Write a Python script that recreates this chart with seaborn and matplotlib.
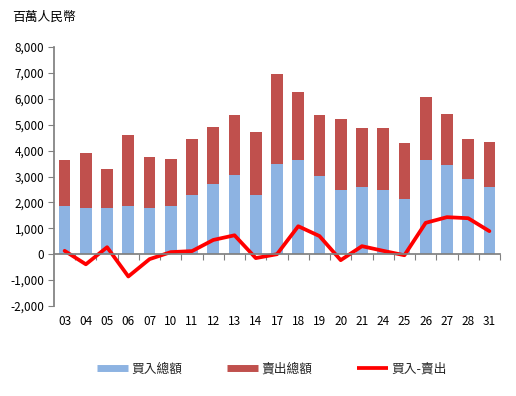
import matplotlib
matplotlib.use("Agg")
import matplotlib.pyplot as plt
import seaborn as sns
import numpy as np
import pandas as pd
from matplotlib.lines import Line2D
from matplotlib.ticker import FuncFormatter, FixedLocator

sns.set_theme(style="white")
plt.rcParams['font.family'] = ['Noto Sans CJK TC', 'DejaVu Sans']

dates = ['03', '04', '05', '06', '07', '10', '11', '12', '13', '14', '17',
         '18', '19', '20', '21', '24', '25', '26', '27', '28', '31']
buy_total = [1870, 1790, 1790, 1870, 1790, 1870, 2290, 2720, 3070, 2290, 3490,
             3650, 3030, 2490, 2600, 2490, 2140, 3650, 3450, 2910, 2600]
all_total = [3650, 3920, 3300, 4610, 3760, 3690, 4460, 4920, 5390, 4730, 6970,
             6280, 5390, 5230, 4880, 4880, 4300, 6080, 5430, 4460, 4340]
net_flow = [130, -390, 270, -860, -190, 80, 120, 550, 730, -150, 0,
            1080, 700, -230, 310, 130, -40, 1210, 1430, 1390, 890]

labels = ['買入總額', '賣出總額', '買入-賣出']
c_buy = '#8DB3E2'
c_sell = '#C0504D'
c_line = '#FF0000'

df = pd.DataFrame({'date': dates, 'buy': buy_total, 'total': all_total, 'net': net_flow})
df['pos'] = np.arange(len(dates))

fig = plt.figure(figsize=(5.16, 3.96), dpi=100)
ax = fig.add_axes([54/516, 1-306/396, (500-54)/516, (306-47)/396])

sns.barplot(data=df, x='date', y='total', order=dates, color=c_sell,
            saturation=1, width=0.55, ax=ax, linewidth=0)
sns.barplot(data=df, x='date', y='buy', order=dates, color=c_buy,
            saturation=1, width=0.55, ax=ax, linewidth=0)
sns.lineplot(data=df, x='pos', y='net', color=c_line, linewidth=2.7, ax=ax)

ax.set_xlim(-0.5, len(dates) - 0.5)
ax.set_ylim(-2000, 8000)
ax.set_yticks(np.arange(-2000, 8001, 1000))
ax.yaxis.set_major_formatter(FuncFormatter(lambda v, p: f'{int(v):,}'))
ax.set_xlabel('')
ax.set_ylabel('')

for s in ['top', 'right']:
    ax.spines[s].set_visible(False)
ax.spines['left'].set_color('#808080')
ax.spines['bottom'].set_color('#808080')
ax.spines['bottom'].set_position(('data', 0))

ax.set_xticks(np.arange(len(dates)))
ax.set_xticklabels(dates)
ax.xaxis.set_minor_locator(FixedLocator(np.arange(len(dates)) + 0.5))
ax.tick_params(axis='x', which='major', length=0, pad=44, labelsize=8.5, colors='black')
ax.tick_params(axis='x', which='minor', bottom=True, length=4, width=0.8, color='#808080', direction='out')
ax.tick_params(axis='y', which='major', left=True, length=4, width=0.8, color='#808080',
               direction='out', labelsize=8.5, pad=3, labelcolor='black')

fig.text(12/516, 1-17/396, '百萬人民幣', fontsize=9.2, va='center', ha='left', color='black')

handles = [Line2D([0], [0], color=c_buy, lw=5, solid_capstyle='butt'),
           Line2D([0], [0], color=c_sell, lw=5, solid_capstyle='butt'),
           Line2D([0], [0], color=c_line, lw=2.7, solid_capstyle='butt')]
fig.legend(handles, labels, loc='center', bbox_to_anchor=(272/516, 1-369/396), ncol=3,
           frameon=False, fontsize=9.2, handlelength=2.4, handletextpad=0.3,
           columnspacing=3.5)

fig.savefig('out.png', dpi=100)
